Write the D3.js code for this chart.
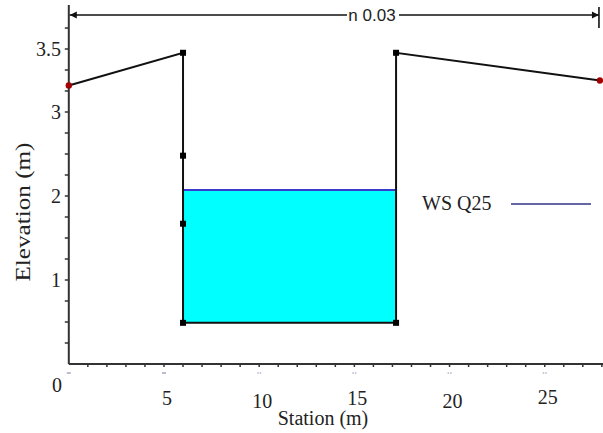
<!DOCTYPE html>
<html><head><meta charset="utf-8">
<script src="https://cdn.jsdelivr.net/npm/d3@7"></script>
<style>html,body{margin:0;padding:0;background:#fff;}svg{display:block;}</style>
</head><body>
<svg id="c" width="603" height="433"></svg>
<script>
// ---- data ----
const stations   = [0, 6.0, 6.0, 6.0, 6.0, 17.19, 17.19, 27.9];
const elevations = [3.21, 3.47, 2.48, 1.67, 0.49, 0.49, 3.47, 3.25];
const wsElevation = 2.07;             // WS Q25
const wsStations = [6.0, 17.19];
const channelBed = 0.49;
const manningN = "n 0.03";
const legendLabel = "WS Q25";
const xTickValues = [5, 10, 15, 20, 25];
const xTickLabels = ["5", "10", "15", "20", "25"];
const xMinorTicks = d3.range(1, 29);
const yTickValues = [1, 2, 3, 3.5];
const yTickLabels = ["1", "2", "3", "3.5"];
const yMinorTicks = [0.25,0.5,0.75,1.25,1.5,1.75,2.25,2.5,2.75,3.1667,3.3333,3.6667];

// ---- scales ----
const svg = d3.select("#c");
const x = d3.scaleLinear().domain([0, 28.06]).range([68.8, 603]);
const y = d3.scaleLinear().domain([0, 3, 3.5, 3.85]).range([364, 112, 49, 5]);
const serif = "'Liberation Serif','Times New Roman',serif";

// water fill
svg.append("rect")
  .attr("x", x(wsStations[0])).attr("width", x(wsStations[1]) - x(wsStations[0]))
  .attr("y", y(wsElevation)).attr("height", y(channelBed) - y(wsElevation))
  .attr("fill", "#00ffff");
svg.append("line")
  .attr("x1", x(wsStations[0])).attr("x2", x(wsStations[1]))
  .attr("y1", y(wsElevation)).attr("y2", y(wsElevation))
  .attr("stroke", "#3a3acc").attr("stroke-width", 2);

// axes
const ax = svg.append("g").attr("stroke", "#333");
ax.append("line").attr("x1", x(0)).attr("x2", 603).attr("y1", y(0)).attr("y2", y(0)).attr("stroke-width", 2);
ax.append("line").attr("x1", x(0)).attr("x2", x(0)).attr("y1", y(0)).attr("y2", y.range()[3]).attr("stroke-width", 2);
ax.selectAll(".xt").data(xMinorTicks).join("line")
  .attr("x1", d => x(d)).attr("x2", d => x(d)).attr("y1", y(0)).attr("y2", y(0) + 3).attr("stroke-width", 1.5);
ax.selectAll(".yt").data(yMinorTicks.concat(yTickValues)).join("line")
  .attr("x1", x(0) - 4).attr("x2", x(0)).attr("y1", d => y(d)).attr("y2", d => y(d)).attr("stroke-width", 1.5);

// small marks under major x ticks
svg.selectAll(".dash").data([0].concat(xTickValues)).join("line")
  .attr("x1", d => x(d) - 2).attr("x2", d => x(d) + 2)
  .attr("y1", y(0) + 9).attr("y2", y(0) + 9)
  .attr("stroke", "#8a93b8").attr("stroke-width", 1.2).attr("stroke-dasharray", (d,i) => i < 2 ? null : "1.5,1");

// tick labels
svg.selectAll(".xl").data(xTickValues).join("text")
  .attr("x", d => x(d) + 3).attr("y", (d,i) => [405, 408, 405, 408, 404][i])
  .attr("text-anchor", "middle").attr("font-family", serif).attr("font-size", 20).attr("fill", "#222")
  .text((d,i) => xTickLabels[i]);
svg.selectAll(".yl").data(yTickValues).join("text")
  .attr("x", 61).attr("y", d => y(d) + 7)
  .attr("text-anchor", "end").attr("font-family", serif).attr("font-size", 20).attr("fill", "#222")
  .text((d,i) => yTickLabels[i]);
svg.append("text").attr("x", 57).attr("y", 392).attr("text-anchor", "middle")
  .attr("font-family", serif).attr("font-size", 20).attr("fill", "#222").text("0");

// axis titles
svg.append("text").attr("x", 323).attr("y", 425).attr("text-anchor", "middle")
  .attr("font-family", serif).attr("font-size", 20).attr("fill", "#222").text("Station (m)");
svg.append("text").attr("transform", "translate(30,212) rotate(-90)").attr("text-anchor", "middle")
  .attr("font-family", serif).attr("font-size", 20).attr("fill", "#222")
  .attr("textLength", 139).attr("lengthAdjust", "spacingAndGlyphs").text("Elevation (m)");

// ground line
const pts = stations.map((s, i) => [x(s), y(elevations[i])]);
svg.append("path").attr("d", d3.line()(pts)).attr("fill", "none")
  .attr("stroke", "#111").attr("stroke-width", 2);
svg.selectAll(".sq").data(pts.slice(1, -1)).join("rect")
  .attr("x", d => d[0] - 3).attr("y", d => d[1] - 3).attr("width", 6).attr("height", 6).attr("fill", "#000");
svg.selectAll(".rd").data([pts[0], pts[pts.length - 1]]).join("circle")
  .attr("cx", d => d[0]).attr("cy", d => d[1]).attr("r", 3.2).attr("fill", "#a00000");

// n value dimension arrow
const ay = 15, xl = x(stations[0]) + 1, xr = x(stations[stations.length - 1]) - 1;
const ar = svg.append("g").attr("stroke", "#111").attr("stroke-width", 1.6);
ar.append("line").attr("x1", xl).attr("x2", 347).attr("y1", ay).attr("y2", ay);
ar.append("line").attr("x1", 399).attr("x2", xr).attr("y1", ay).attr("y2", ay);
ar.append("line").attr("x1", xr).attr("x2", xr).attr("y1", 7).attr("y2", 28);
svg.append("path").attr("d", `M${xl},${ay} l7,-3.5 l0,7 z`).attr("fill", "#111");
svg.append("path").attr("d", `M${xr},${ay} l-7,-3.5 l0,7 z`).attr("fill", "#111");
svg.append("text").attr("x", 372).attr("y", ay + 6).attr("text-anchor", "middle")
  .attr("font-family", "'Liberation Sans',Arial,sans-serif").attr("font-size", 17).attr("fill", "#222").text(manningN);

// legend
svg.append("text").attr("x", 422).attr("y", 210).attr("font-family", serif).attr("font-size", 20).attr("fill", "#222").text(legendLabel);
svg.append("line").attr("x1", 511).attr("x2", 591).attr("y1", 204).attr("y2", 204).attr("stroke", "#333388").attr("stroke-width", 1.6);
</script>
</body></html>
